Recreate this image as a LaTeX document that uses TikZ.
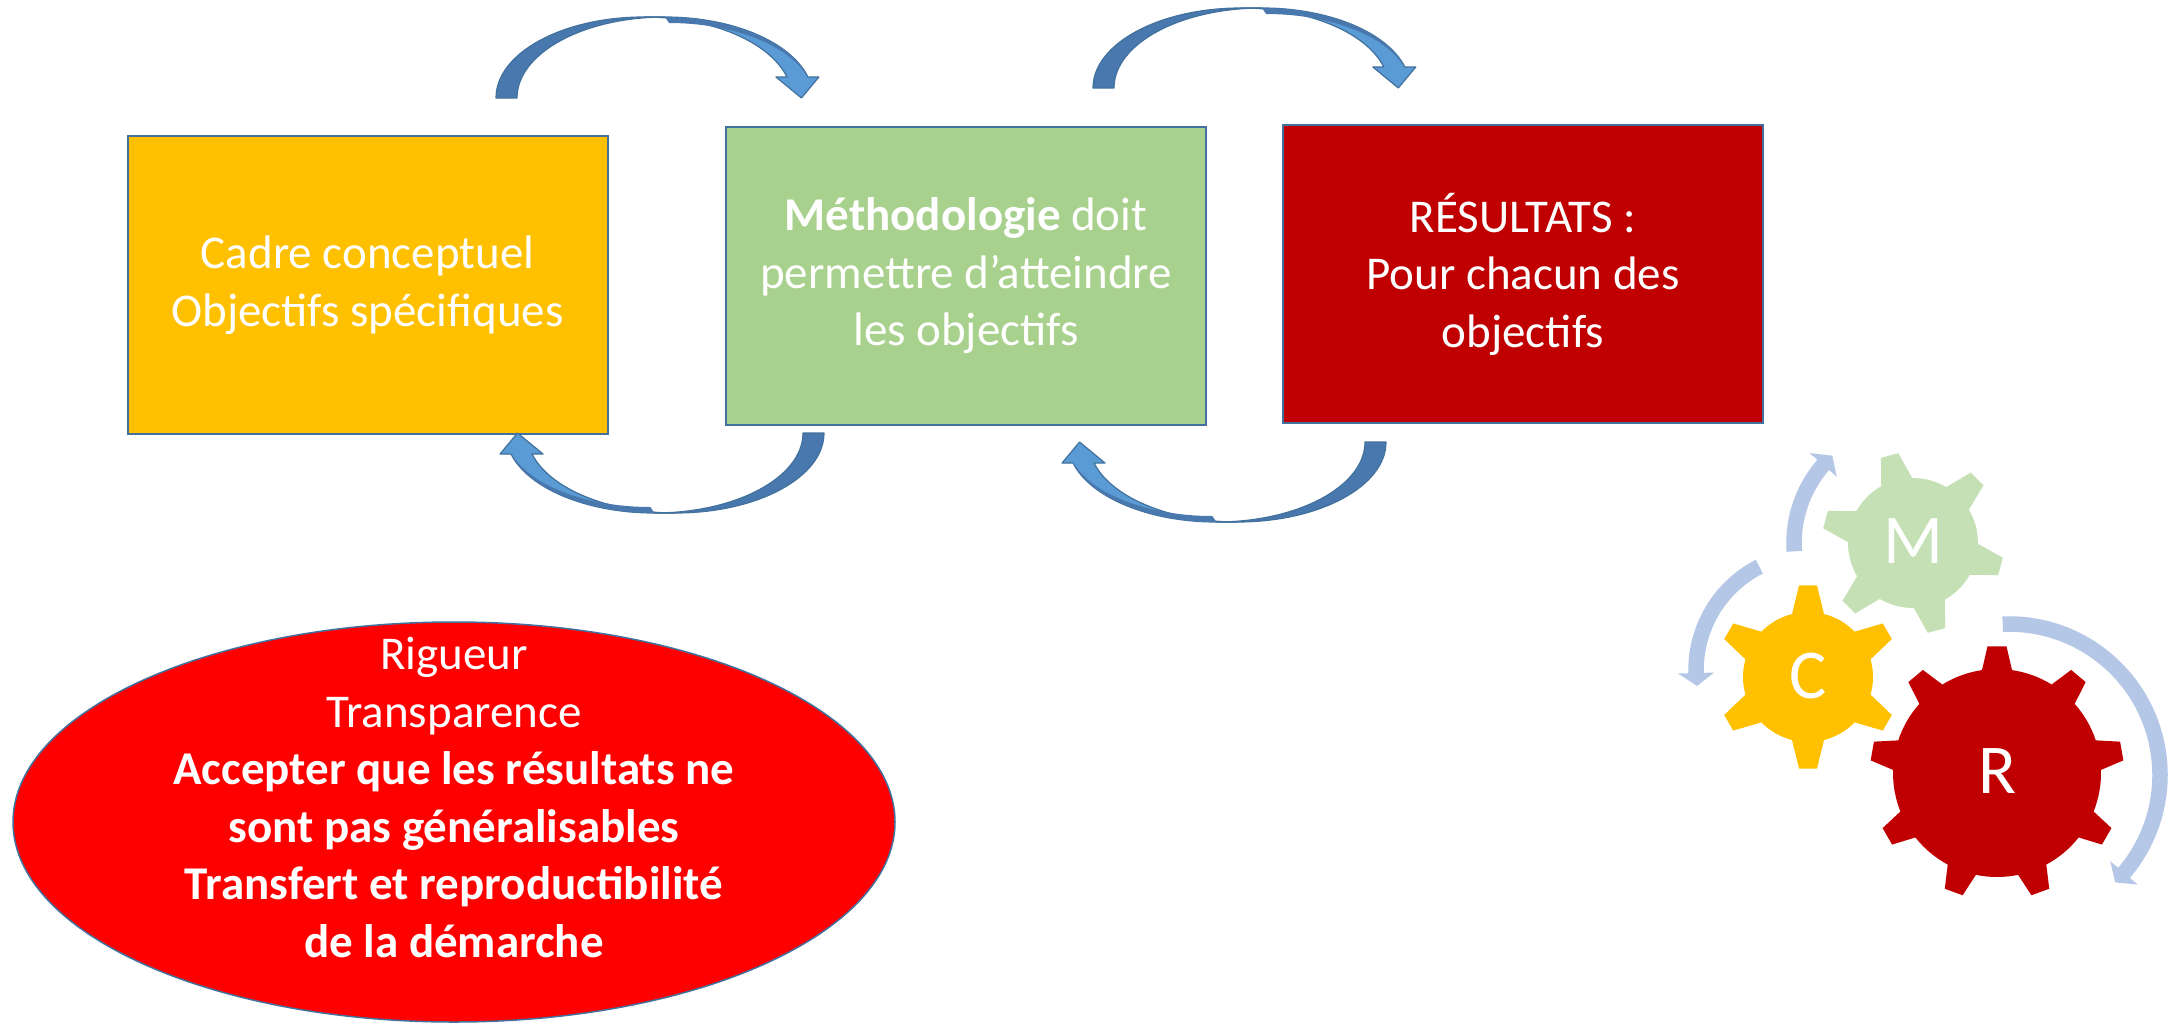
\documentclass[tikz,border=0pt]{standalone}
\usepackage{fontspec}
\setmainfont{Carlito}
\usetikzlibrary{shapes.geometric}
\definecolor{boxline}{HTML}{41719C}
\definecolor{cyel}{HTML}{FFC000}
\definecolor{cgreen}{HTML}{A9D18E}
\definecolor{cdred}{HTML}{C00000}
\definecolor{cred}{HTML}{FF0000}
\definecolor{adark}{HTML}{4878AD}
\definecolor{alight}{HTML}{5B9BD5}
\definecolor{ringc}{HTML}{B4C7E7}
\definecolor{gearM}{HTML}{C5E0B4}
\definecolor{gearC}{HTML}{FFC000}
\definecolor{gearR}{HTML}{C00000}

% curved block arrow: #1 cx of outer ellipse, #2 cy, #3 rx, #4 ry, #5 xscale, #6 yscale
\newcommand\curvarrow[6]{%
 \begin{scope}[shift={(#1,#2)}, xscale=#5, yscale=#6]
  \pgfmathsetmacro\tb{asin(21/#4)}
  \pgfmathsetmacro\xi{#3*cos(\tb)}
  \pgfmathsetmacro\xo{21+#3*cos(\tb)}
  \pgfmathsetmacro\xt{(\xi+\xo)/2+4}
  \pgfmathsetmacro\ts{\tb+4}
  \pgfmathsetmacro\sx{25+(#3-4)*cos(\ts)}
  \pgfmathsetmacro\sy{(#4-6)*sin(\ts)}
  \filldraw[fill=alight, draw=boxline, line width=1.2pt, line join=round]
    (21,#4) arc[start angle=90, end angle=\tb, x radius=#3, y radius=#4]
    -- (\xo+11,21) -- (\xt,0) -- (\xi-11,21) -- (\xi,21)
    arc[start angle=\tb, end angle=90, x radius=#3, y radius=#4] -- cycle;
  \fill[adark]
    (21,#4) arc[start angle=90, end angle=\ts, x radius=#3, y radius=#4]
    -- (\sx,\sy) arc[start angle=\ts, end angle=90, x radius={#3-4}, y radius={#4-6}] -- cycle;
  \filldraw[fill=adark, draw=boxline, line width=1.2pt, line join=round]
    (-#3,0) arc[start angle=180, end angle=90, x radius=#3, y radius=#4]
    -- (21,#4) arc[start angle=90, end angle=180, x radius=#3, y radius=#4] -- cycle;
 \end{scope}}

% circular arrow: #1 cx, #2 cy, #3 r, #4 start angle, #5 end angle, #6 direction
\newcommand\ringarrow[6]{%
 \begin{scope}[shift={(#1,#2)}, yscale=-1]
  \pgfmathsetmacro\rO{#3+7.75}
  \pgfmathsetmacro\rI{#3-7.75}
  \pgfmathsetmacro\rW{#3+18}
  \pgfmathsetmacro\rV{#3-18}
  \pgfmathsetmacro\at{#5+#6*13/#3*57.2958}
  \fill[ringc] (#4:\rO) arc[start angle=#4, end angle=#5, radius=\rO]
    -- (#5:\rW) -- (\at:#3) -- (#5:\rV) -- (#5:\rI)
    arc[start angle=#5, end angle=#4, radius=\rI] -- cycle;
 \end{scope}}

% gear: #1 cx, #2 cy, #3 body r, #4 tip r, #5 teeth, #6 phase, #7 tip w, #8 base w, #9 colour
\newcommand\gearshape[9]{%
 \begin{scope}[shift={(#1,#2)}, yscale=-1]
  \pgfmathsetmacro\gst{360/#5}
  \pgfmathsetmacro\gbb{asin(#8/2/#3)}
  \pgfmathsetmacro\gbt{asin(#7/2/#4)}
  \pgfmathtruncatemacro\gn{#5-1}
  \fill[#9] ({#6-\gbb}:#3) \foreach \k in {0,...,\gn}{
      -- ({#6+\k*\gst-\gbt}:#4) -- ({#6+\k*\gst+\gbt}:#4) -- ({#6+\k*\gst+\gbb}:#3)
      arc[start angle={#6+\k*\gst+\gbb}, end angle={#6+(\k+1)*\gst-\gbb}, radius=#3]
  } -- cycle;
 \end{scope}}

\begin{document}
\begin{tikzpicture}[x=1pt, y=-1pt,
  box/.style={draw=boxline, line width=2pt, text=white, align=center, inner sep=0pt,
    minimum width=480, minimum height=298, font=\fontsize{47}{57.5}\selectfont,
    execute at begin node={\rule{0pt}{43pt}}},
  gearlab/.style={text=white, inner sep=0pt, font=\fontsize{70}{84}\selectfont}]
\useasboundingbox (0,0) rectangle (2177,1023);
\fill[white] (0,0) rectangle (2177,1023);

% boxes
\node[box, fill=cyel] (cadre) at (367.5,285) {Cadre conceptuel\\Objectifs spécifiques};
\node[box, fill=cgreen] (metho) at (966,276) {\textbf{Méthodologie} doit\\permettre d’atteindre\\les objectifs};
\node[box, fill=cdred] (resu) at (1523,274) {RÉSULTATS :\\Pour chacun des\\objectifs};

% curved arrows between the boxes
\curvarrow{644}{98}{148}{81}{1}{-1}
\curvarrow{1241}{88}{148}{80}{1}{-1}
\curvarrow{675.4}{433}{148.6}{80}{-1}{1}
\curvarrow{1237.4}{442}{148.6}{80}{-1}{1}

% ellipse
\node[ellipse, draw=boxline, line width=1.5pt, fill=cred, minimum width=882,
  minimum height=400, inner sep=0pt] (lim) at (454,822) {};
\node[align=center, text=white, inner sep=0pt, anchor=north,
  font=\fontsize{47}{57.5}\selectfont] (limtext) at (454,637)
  {Rigueur\\Transparence\\\textbf{Accepter que les résultats ne}\\\textbf{sont pas généralisables}\\\textbf{Transfert et reproductibilité}\\\textbf{de la démarche}};

% gears
\ringarrow{1913}{543}{119}{184}{139}{-1}
\ringarrow{1812}{670}{116}{117}{181.5}{1}
\ringarrow{2009}{775}{151}{92.4}{-40.4}{-1}
\gearshape{1913}{543}{65}{91}{6}{105}{18}{32}{gearM}
\gearshape{1808}{677}{65}{92}{6}{90}{18}{32}{gearC}
\gearshape{1997}{773}{104}{127}{9}{90}{19}{30}{gearR}
\node[gearlab] (gM) at (1913,541) {M};
\node[gearlab] (gC) at (1808,676) {C};
\node[gearlab] (gR) at (1997,771) {R};
\end{tikzpicture}
\end{document}
